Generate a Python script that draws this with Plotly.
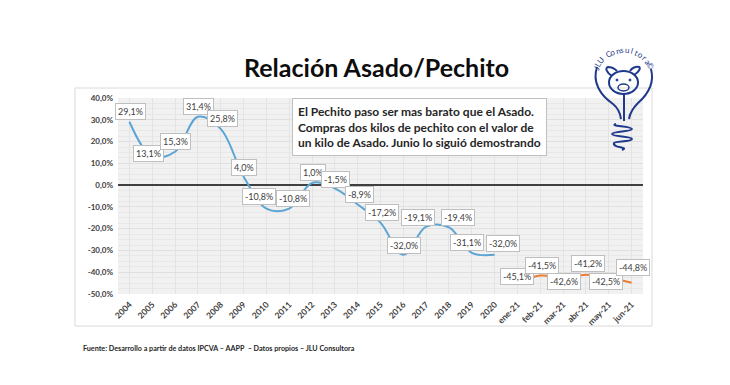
import math
import plotly.graph_objects as go

# ---------------- data ----------------
categories = ["2004", "2005", "2006", "2007", "2008", "2009", "2010", "2011", "2012",
              "2013", "2014", "2015", "2016", "2017", "2018", "2019", "2020",
              "ene-21", "feb-21", "mar-21", "abr-21", "may-21", "jun-21"]
annual_values = [29.1, 13.1, 15.3, 31.4, 25.8, 4.0, -10.8, -10.8, 1.0, -1.5, -8.9,
                 -17.2, -32.0, -19.1, -19.4, -31.1, -32.0]
monthly_values = [-45.1, -41.5, -42.6, -41.2, -42.5, -44.8]
y_tick_values = [40, 30, 20, 10, 0, -10, -20, -30, -40, -50]
y_tick_labels = ["40,0%", "30,0%", "20,0%", "10,0%", "0,0%", "-10,0%", "-20,0%",
                 "-30,0%", "-40,0%", "-50,0%"]

positions = list(range(len(categories)))
annual_pos = positions[:len(annual_values)]
monthly_pos = positions[len(annual_values):]

# label offsets (style only), pixels (dx, dy up)
annual_label_offsets = [(1, 10), (-4, 3), (0, 10), (1, 10), (2, 10), (0, 9), (-7, 12),
                        (4, 10), (1, 10), (1, 9), (2, 10), (1, 10), (1, 9), (-8, 9),
                        (9, 10), (-5, 10), (8, 11)]
monthly_label_offsets = [(0, 7), (2, 10), (1, -4), (2, 11), (-3, -4), (1, 15)]

W_FIG, H_FIG = 730, 385
L, R, T, B = 118, 643, 98, 294
PW, PH = R - L, B - T

def px(x):
    return (x - L) / PW

def py(y):
    return (B - y) / PH

def fmt(v):
    return f"{v:.1f}".replace(".", ",") + "%"

BLUE = "#5aa5d6"
ORANGE = "#ed7d31"
NAVY = "#1f3a8c"
FONT = "Lato"

fig = go.Figure()
fig.add_trace(go.Scatter(x=annual_pos, y=annual_values, mode="lines",
                         line=dict(color=BLUE, width=2, shape="spline", smoothing=1.0),
                         hoverinfo="skip", showlegend=False))
fig.add_trace(go.Scatter(x=monthly_pos, y=monthly_values, mode="lines",
                         line=dict(color=ORANGE, width=2, shape="spline", smoothing=1.0),
                         hoverinfo="skip", showlegend=False))

annotations = []
for c, v, (dx, dy) in list(zip(annual_pos, annual_values, annual_label_offsets)) + \
        list(zip(monthly_pos, monthly_values, monthly_label_offsets)):
    annotations.append(dict(x=c, y=v, xref="x", yref="y", text=fmt(v), showarrow=False,
                            xshift=dx, yshift=dy, xanchor="center", yanchor="middle",
                            font=dict(family=FONT, size=9, color="#404040"),
                            bgcolor="white", bordercolor="#bfbfbf", borderwidth=1,
                            borderpad=2))

# title
annotations.append(dict(x=px(376), y=py(67), xref="paper", yref="paper",
                        xanchor="center", yanchor="middle",
                        text="<b>Relación Asado/Pechito</b>", showarrow=False,
                        font=dict(family=FONT, size=25, color="#0d0d0d", weight=900)))
# text box
annotations.append(dict(x=px(292), y=py(98), xref="paper", yref="paper",
                        xanchor="left", yanchor="top", align="left",
                        text="<b>El Pechito paso ser mas barato que el Asado.<br>"
                             "Compras dos kilos de pechito con el valor de<br>"
                             "un kilo de Asado. Junio lo siguió demostrando</b>",
                        showarrow=False,
                        font=dict(family=FONT, size=12, color="#262626"),
                        bgcolor="white", bordercolor="#bfbfbf", borderwidth=1,
                        borderpad=5))
# footer
annotations.append(dict(x=px(81), y=py(348), xref="paper", yref="paper",
                        xanchor="left", yanchor="middle",
                        text="<b>Fuente: Desarrollo a partir de datos IPCVA – AAPP  – Datos propios – JLU Consultora</b>",
                        showarrow=False, font=dict(family=FONT, size=7.2, color="#262626")))

# logo curved text
logo_text = "JLU Consultora©"
cx, cy, rad = 624, 80, 30
a0, a1 = -158, -28
n = len(logo_text)
for i, ch in enumerate(logo_text):
    th = a0 + (a1 - a0) * i / (n - 1)
    lx = cx + rad * math.cos(math.radians(th))
    ly = cy + rad * math.sin(math.radians(th))
    annotations.append(dict(x=px(lx), y=py(ly), xref="paper", yref="paper", text=ch,
                            showarrow=False, textangle=th + 90,
                            xanchor="center", yanchor="middle",
                            font=dict(family=FONT, size=8, color=NAVY)))

def path(points_str):
    out = []
    for tok in points_str.split():
        if "," in tok:
            a, b = tok.split(",")
            out.append(f"{px(float(a)):.4f},{py(float(b)):.4f}")
        else:
            out.append(tok)
    return " ".join(out)

shapes = []
# outer container border
shapes.append(dict(type="rect", xref="paper", yref="paper", x0=px(75), x1=px(652),
                   y0=py(326), y1=py(88), line=dict(color="#d9d9d9", width=1),
                   fillcolor="rgba(0,0,0,0)", layer="below"))
logo_paths = [
    "M 597,67 C 592,82 600,95 613,104 C 618,108 620,112 621,119",
    "M 651,69 C 655,84 646,96 638,103 C 633,108 630,112 629,119",
    "M 624,93 C 624,100 624,110 624,121",
    "M 616,124 C 608,126 632,126 632,129 C 632,132 612,131 612,134 C 612,137 632,136 632,139 "
    "C 632,142 614,141 614,143 C 612,148 630,147 622,150",
    "M 612,76 C 606,72 605,68 608,67 C 611,67 615,69 617,71",
    "M 634,75 C 639,72 641,68 639,67 C 636,66 632,68 630,71",
]
for p in logo_paths:
    shapes.append(dict(type="path", xref="paper", yref="paper", path=path(p),
                       line=dict(color=NAVY, width=2)))
shapes.append(dict(type="circle", xref="paper", yref="paper", x0=px(609), x1=px(638),
                   y0=py(94), y1=py(71), line=dict(color=NAVY, width=2)))
shapes.append(dict(type="circle", xref="paper", yref="paper", x0=px(618), x1=px(629),
                   y0=py(91), y1=py(84), line=dict(color=NAVY, width=1.5)))
for ex in (617, 630):
    shapes.append(dict(type="circle", xref="paper", yref="paper", x0=px(ex - 1),
                       x1=px(ex + 1), y0=py(81), y1=py(79), fillcolor=NAVY,
                       line=dict(color=NAVY, width=1)))

fig.update_layout(
    width=W_FIG, height=H_FIG,
    margin=dict(l=L, r=W_FIG - R, t=T, b=H_FIG - B, autoexpand=False),
    paper_bgcolor="white", plot_bgcolor="#f1f1f1",
    annotations=annotations, shapes=shapes,
    xaxis=dict(range=[-0.5, len(categories) - 0.5], tickvals=positions,
               ticktext=categories, tickangle=-45, showgrid=True,
               gridcolor="#e3e3e3", gridwidth=1,
               tickfont=dict(family=FONT, size=8.5, color="#404040", weight="bold"),
               showline=False, zeroline=False, ticks="", ticklabelstandoff=3),
    yaxis=dict(range=[-50, 40], tickvals=y_tick_values, ticktext=y_tick_labels,
               showgrid=True, gridcolor="#e0e0e0",
               minor=dict(dtick=2.5, showgrid=True, gridcolor="#e8e8e8"),
               zeroline=True, zerolinecolor="#404040", zerolinewidth=1.5,
               tickfont=dict(family=FONT, size=8, color="#404040", weight="bold"),
               ticks="", ticklabelstandoff=4),
)

fig.write_html("out.html", config={"displayModeBar": False},
               post_script="document.body.style.margin='0px';")
